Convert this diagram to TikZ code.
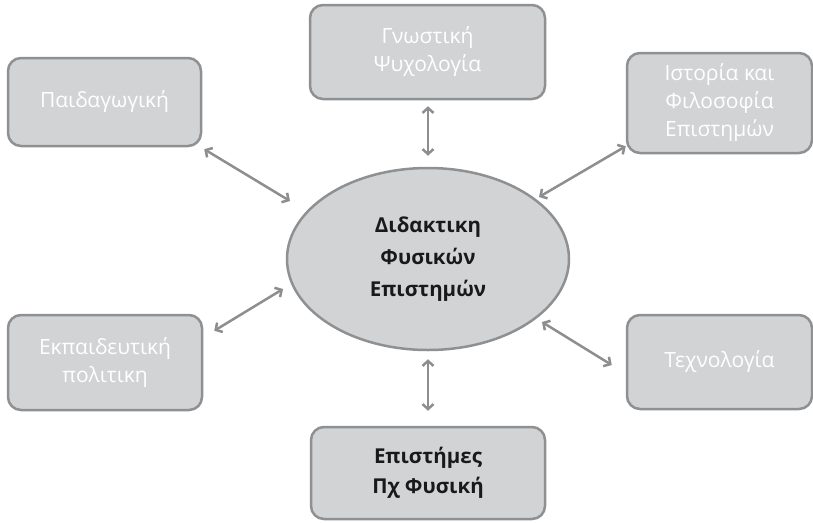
\documentclass[tikz,border=0pt]{standalone}
\usepackage{fontspec}
\setmainfont{Open Sans}
\usetikzlibrary{arrows.meta,shapes.geometric}
\definecolor{boxfill}{HTML}{D2D3D5}
\definecolor{boxline}{HTML}{8F9092}
\definecolor{arrcol}{HTML}{8E8E90}
\tikzset{
  topic/.style={draw=boxline, fill=boxfill, line width=2.5pt, rounded corners=13pt,
    text=white, align=center, inner sep=0pt,
    font=\fontsize{21}{28}\selectfont},
  core/.style={draw=boxline, fill=boxfill, line width=2.5pt, ellipse, inner sep=0pt,
    text=black!90, align=center, font=\fontsize{20.5}{32}\selectfont\bfseries},
  sci/.style={topic, text=black!90, font=\fontsize{20.5}{30}\selectfont\bfseries},
  link/.style={draw=arrcol, line width=2.5pt,
    {Straight Barb[length=5pt,width=11pt]}-{Straight Barb[length=5pt,width=11pt]}}
}
\begin{document}
\begin{tikzpicture}[x=1pt,y=-1pt]
\useasboundingbox (0,0) rectangle (813,522);
\node[topic, minimum width=193pt, minimum height=88pt] (ped) at (104.5,102) {Παιδαγωγική};
\node[topic, minimum width=235pt, minimum height=94pt] (gno) at (427.5,52) {Γνωστική\\Ψυχολογία};
\node[topic, minimum width=185pt, minimum height=100pt] (ist) at (719.5,103) {Ιστορία και\\Φιλοσοφία\\Επιστημών};
\node[core, minimum width=282pt, minimum height=182pt] (ell) at (428,259) {Διδακτικη\\Φυσικών\\Επιστημών};
\node[topic, minimum width=194pt, minimum height=95pt] (ekp) at (105,362.5) {Εκπαιδευτική\\πολιτικη};
\node[topic, minimum width=185pt, minimum height=94pt] (tec) at (719.5,362) {Τεχνολογία};
\node[sci, minimum width=234pt, minimum height=92pt] (sci) at (428,473) {Επιστήμες\\Πχ Φυσική};
\draw[link] ([shift={(2,2)}]ped.south east) -- ([shift={(-138,-58)}]ell.center);
\draw[link] ([shift={(0.5,6)}]gno.south) -- ([shift={(0,-11)}]ell.north);
\draw[link] ([shift={(0,-8)}]ist.south west) -- ([shift={(111,-62)}]ell.center);
\draw[link] ([shift={(11,17)}]ekp.north east) -- ([shift={(-145,30)}]ell.center);
\draw[link] ([shift={(114,63)}]ell.center) -- ([shift={(-14,3)}]tec.west);
\draw[link] ([shift={(0,8)}]ell.south) -- ([shift={(0,-15)}]sci.north);
\end{tikzpicture}
\end{document}
